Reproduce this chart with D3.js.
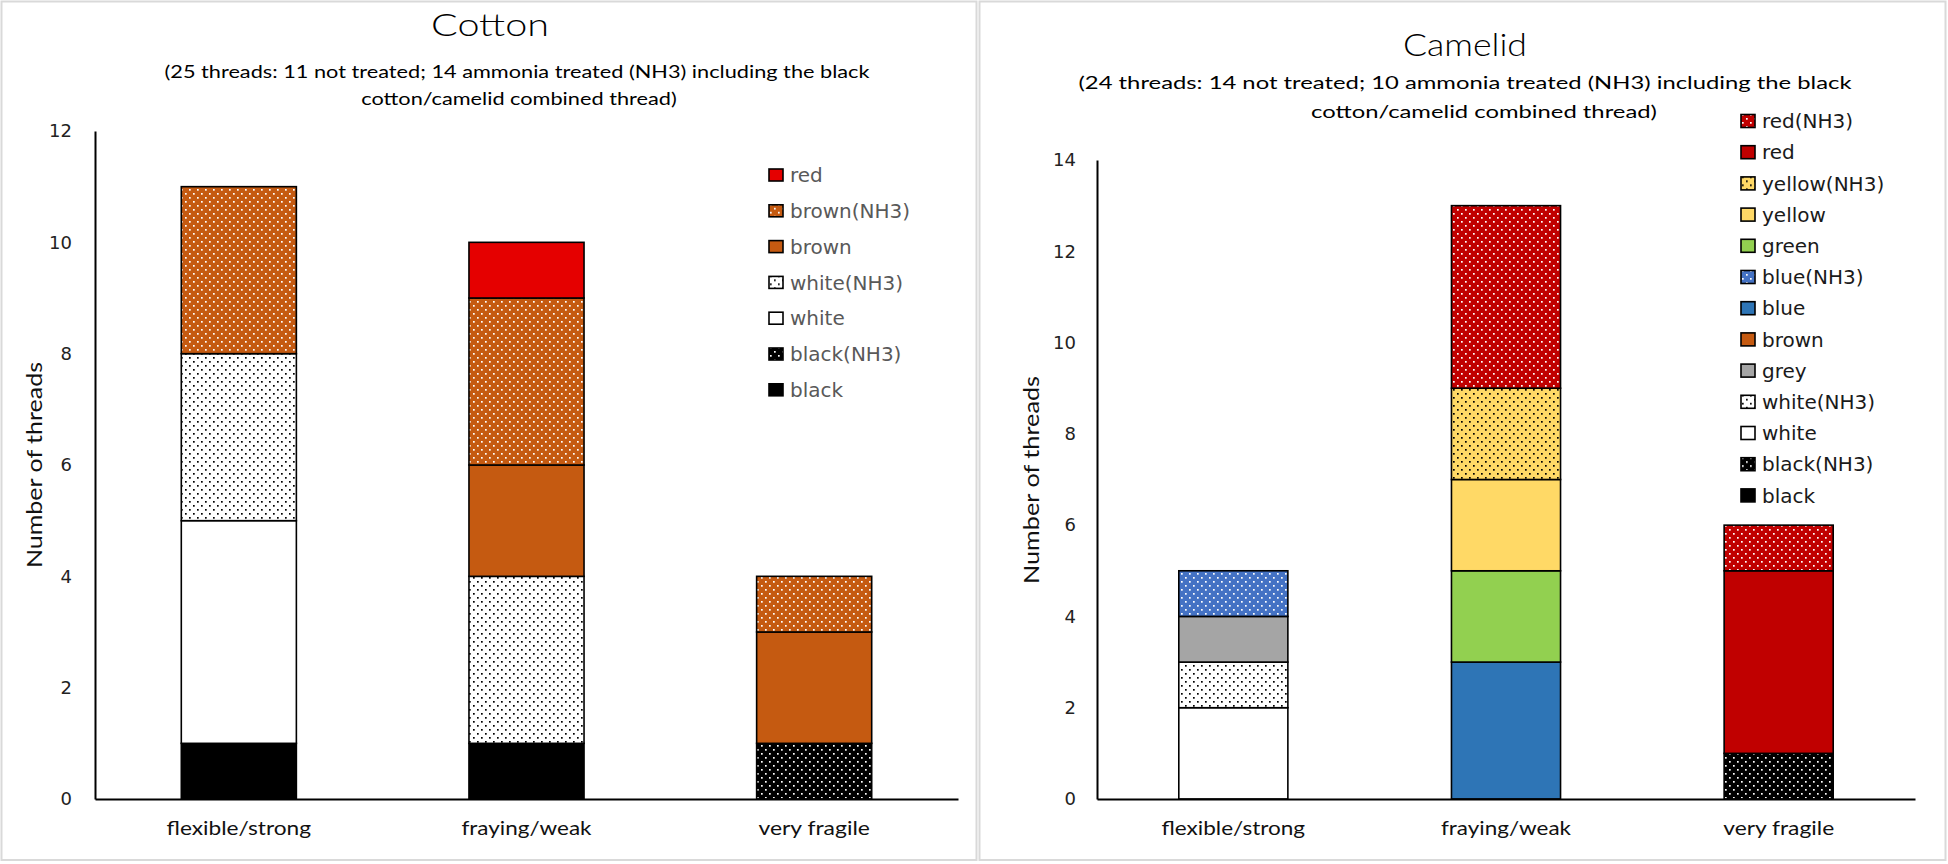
<!DOCTYPE html>
<html><head><meta charset="utf-8">
<script src="https://cdn.jsdelivr.net/npm/d3@7"></script>
<style>body{margin:0;background:#fff;} svg{display:block}</style>
</head><body><svg id="c" width="1948" height="864"></svg>
<script>
// ---------- DATA ----------
const categories = ["flexible/strong", "fraying/weak", "very fragile"];

// Cotton (stack order bottom -> top)
const cottonSeries = ["black", "black(NH3)", "white", "white(NH3)", "brown", "brown(NH3)", "red"];
const cottonBlack     = [1, 1, 0];
const cottonBlackNH3  = [0, 0, 1];
const cottonWhite     = [4, 0, 0];
const cottonWhiteNH3  = [3, 3, 0];
const cottonBrown     = [0, 2, 2];
const cottonBrownNH3  = [3, 3, 1];
const cottonRed       = [0, 1, 0];
const cottonTicks = [0, 2, 4, 6, 8, 10, 12];

// Camelid (stack order bottom -> top)
const camelidSeries = ["black", "black(NH3)", "white", "white(NH3)", "grey", "brown", "blue", "blue(NH3)", "green", "yellow", "yellow(NH3)", "red", "red(NH3)"];
const camelidBlack     = [0, 0, 0];
const camelidBlackNH3  = [0, 0, 1];
const camelidWhite     = [2, 0, 0];
const camelidWhiteNH3  = [1, 0, 0];
const camelidGrey      = [1, 0, 0];
const camelidBrown     = [0, 0, 0];
const camelidBlue      = [0, 3, 0];
const camelidBlueNH3   = [1, 0, 0];
const camelidGreen     = [0, 2, 0];
const camelidYellow    = [0, 2, 0];
const camelidYellowNH3 = [0, 2, 0];
const camelidRed       = [0, 0, 4];
const camelidRedNH3    = [0, 4, 1];
const camelidTicks = [0, 2, 4, 6, 8, 10, 12, 14];

const cottonTitle = "Cotton";
const cottonSub = ["(25 threads: 11 not treated; 14 ammonia treated (NH3) including the black", "cotton/camelid combined thread)"];
const camelidTitle = "Camelid";
const camelidSub = ["(24 threads: 14 not treated; 10 ammonia treated (NH3) including the black", "cotton/camelid combined thread)"];
const yTitle = "Number of threads";

// ---------- STYLE ----------
const svg = d3.select("#c");
const defs = svg.append("defs");
function makePattern(id, base, dot) {
  const p = defs.append("pattern").attr("id", id).attr("patternUnits", "userSpaceOnUse")
    .attr("width", 8).attr("height", 8);
  p.append("rect").attr("width", 8).attr("height", 8).attr("fill", base);
  p.append("rect").attr("x", 1).attr("y", 1).attr("width", 1.7).attr("height", 1.7).attr("fill", dot);
  p.append("rect").attr("x", 5).attr("y", 5).attr("width", 1.7).attr("height", 1.7).attr("fill", dot);
}
makePattern("p-black", "#000000", "#ffffff");
makePattern("p-white", "#ffffff", "#000000");
makePattern("p-brown", "#c55a11", "#ffffff");
makePattern("p-blue", "#4472c4", "#ffffff");
makePattern("p-yellow", "#ffd966", "#000000");
makePattern("p-red", "#c00000", "#ffffff");

const cottonFill = {
  "black": "#000000", "black(NH3)": "url(#p-black)", "white": "#ffffff", "white(NH3)": "url(#p-white)",
  "brown": "#c55a11", "brown(NH3)": "url(#p-brown)", "red": "#e50000"
};
const camelidFill = {
  "black": "#000000", "black(NH3)": "url(#p-black)", "white": "#ffffff", "white(NH3)": "url(#p-white)",
  "grey": "#a5a5a5", "brown": "#c55a11", "blue": "#2e75b6", "blue(NH3)": "url(#p-blue)",
  "green": "#92d050", "yellow": "#ffd966", "yellow(NH3)": "url(#p-yellow)",
  "red": "#c00000", "red(NH3)": "url(#p-red)"
};

// panel borders
svg.append("rect").attr("x", 1.5).attr("y", 1.5).attr("width", 975).attr("height", 858.5)
  .attr("fill", "#fff").attr("stroke", "#d9d9d9").attr("stroke-width", 2);
svg.append("rect").attr("x", 979.5).attr("y", 1.5).attr("width", 966).attr("height", 858.5)
  .attr("fill", "#fff").attr("stroke", "#d9d9d9").attr("stroke-width", 2);

const HEAD = "Lato, 'Open Sans', sans-serif";
const BODY = "'DejaVu Sans', Verdana, sans-serif";

function drawChart(cfg) {
  const g = svg.append("g");
  const rows = categories.map((c, i) => {
    const r = { cat: c };
    cfg.series.forEach(s => r[s] = cfg.values[s][i]);
    return r;
  });
  const stacked = d3.stack().keys(cfg.series)(rows);
  const x = d3.scaleBand().domain(categories).range(cfg.xRange).paddingInner(0.6).paddingOuter(0.3);
  const y = d3.scaleLinear().domain([0, cfg.yMax]).range(cfg.yRange);

  // bars
  stacked.forEach(layer => {
    g.append("g").selectAll("rect").data(layer.filter(d => d[1] - d[0] > 0)).join("rect")
      .attr("x", d => x(d.data.cat))
      .attr("width", x.bandwidth())
      .attr("y", d => y(d[1]))
      .attr("height", d => y(d[0]) - y(d[1]))
      .attr("fill", cfg.fill[layer.key])
      .attr("stroke", "#000").attr("stroke-width", 1.6);
  });

  // y axis
  const ya = g.append("g").attr("transform", `translate(${cfg.xRange[0]},0)`)
    .call(d3.axisLeft(y).tickValues(cfg.ticks).tickSize(0).tickPadding(cfg.tickPad));
  ya.select(".domain").attr("stroke", "#000").attr("stroke-width", 2);
  ya.selectAll("text").attr("font-family", BODY).attr("font-size", 18).attr("fill", "#222");

  // x axis
  const xa = g.append("g").attr("transform", `translate(0,${cfg.yRange[0]})`)
    .call(d3.axisBottom(x).tickSize(0).tickSizeOuter(0));
  xa.select(".domain").attr("stroke", "#000").attr("stroke-width", 2);
  xa.selectAll("text").attr("font-family", HEAD).attr("font-size", 19).attr("fill", "#111")
    .attr("y", 36).attr("dy", 0)
    .attr("textLength", (d, i) => cfg.labelLens[i]).attr("lengthAdjust", "spacingAndGlyphs");

  // title
  g.append("text").attr("x", cfg.title.x).attr("y", cfg.title.y).attr("text-anchor", "middle")
    .attr("font-family", HEAD).attr("font-size", 31).attr("font-weight", 300).attr("fill", "#000")
    .attr("textLength", cfg.title.len).attr("lengthAdjust", "spacingAndGlyphs").text(cfg.titleText);

  // subtitle: line 1 fitted to measured width, line 2 scaled by the same factor
  const s1 = g.append("text").attr("x", cfg.sub[0].x).attr("y", cfg.sub[0].y).attr("text-anchor", "middle")
    .attr("font-family", HEAD).attr("font-size", 18).attr("fill", "#000").text(cfg.subText[0]);
  const s2 = g.append("text").attr("x", cfg.sub[1].x).attr("y", cfg.sub[1].y).attr("text-anchor", "middle")
    .attr("font-family", HEAD).attr("font-size", 18).attr("fill", "#000").text(cfg.subText[1]);
  const n1 = s1.node().getComputedTextLength();
  const n2 = s2.node().getComputedTextLength();
  const k = cfg.sub[0].len / n1;
  s1.attr("textLength", cfg.sub[0].len).attr("lengthAdjust", "spacingAndGlyphs");
  s2.attr("textLength", n2 * k).attr("lengthAdjust", "spacingAndGlyphs");

  // y title
  g.append("text").attr("transform", `translate(${cfg.yTitle.x},${cfg.yTitle.y}) rotate(-90)`)
    .attr("text-anchor", "middle").attr("font-family", HEAD).attr("font-size", 22).attr("fill", "#111")
    .attr("textLength", cfg.yTitle.len).attr("lengthAdjust", "spacingAndGlyphs").text(yTitle);

  // legend (reverse order)
  const leg = cfg.series.slice().reverse();
  const L = cfg.legend;
  const lg = g.append("g").selectAll("g").data(leg).join("g")
    .attr("transform", (d, i) => `translate(${L.x},${L.y0 + i * L.dy})`);
  lg.append("rect").attr("x", 0).attr("y", -L.sh / 2).attr("width", L.sw).attr("height", L.sh)
    .attr("fill", d => cfg.fill[d]).attr("stroke", "#000").attr("stroke-width", 1.6);
  lg.append("text").attr("x", L.tx - L.x).attr("y", 0).attr("dy", "0.36em")
    .attr("font-family", BODY).attr("font-size", 20).attr("fill", L.color).text(d => d);
}

drawChart({
  series: cottonSeries,
  values: { "black": cottonBlack, "black(NH3)": cottonBlackNH3, "white": cottonWhite, "white(NH3)": cottonWhiteNH3,
            "brown": cottonBrown, "brown(NH3)": cottonBrownNH3, "red": cottonRed },
  fill: cottonFill, xRange: [95, 958], yRange: [799, 131], yMax: 12, ticks: cottonTicks, tickPad: 23,
  titleText: cottonTitle, subText: cottonSub,
  title: { x: 490, y: 36, len: 118 },
  sub: [{ x: 517, y: 78, len: 705 }, { x: 519, y: 105 }],
  legend: { x: 769, y0: 175, dy: 35.8, sw: 14, sh: 12, tx: 790, color: "#595959" },
  yTitle: { x: 42, y: 465, len: 206 },
  labelLens: [144.5, 130, 111.5]
});

drawChart({
  series: camelidSeries,
  values: { "black": camelidBlack, "black(NH3)": camelidBlackNH3, "white": camelidWhite, "white(NH3)": camelidWhiteNH3,
            "grey": camelidGrey, "brown": camelidBrown, "blue": camelidBlue, "blue(NH3)": camelidBlueNH3,
            "green": camelidGreen, "yellow": camelidYellow, "yellow(NH3)": camelidYellowNH3,
            "red": camelidRed, "red(NH3)": camelidRedNH3 },
  fill: camelidFill, xRange: [1097, 1915], yRange: [799, 160], yMax: 14, ticks: camelidTicks, tickPad: 21,
  titleText: camelidTitle, subText: camelidSub,
  title: { x: 1465, y: 56, len: 124 },
  sub: [{ x: 1465, y: 89, len: 773 }, { x: 1484, y: 118 }],
  legend: { x: 1741, y0: 121, dy: 31.2, sw: 14, sh: 13, tx: 1762, color: "#1a1a1a" },
  yTitle: { x: 1039, y: 480, len: 208 },
  labelLens: [143.5, 130, 111]
});
</script>
</body></html>
